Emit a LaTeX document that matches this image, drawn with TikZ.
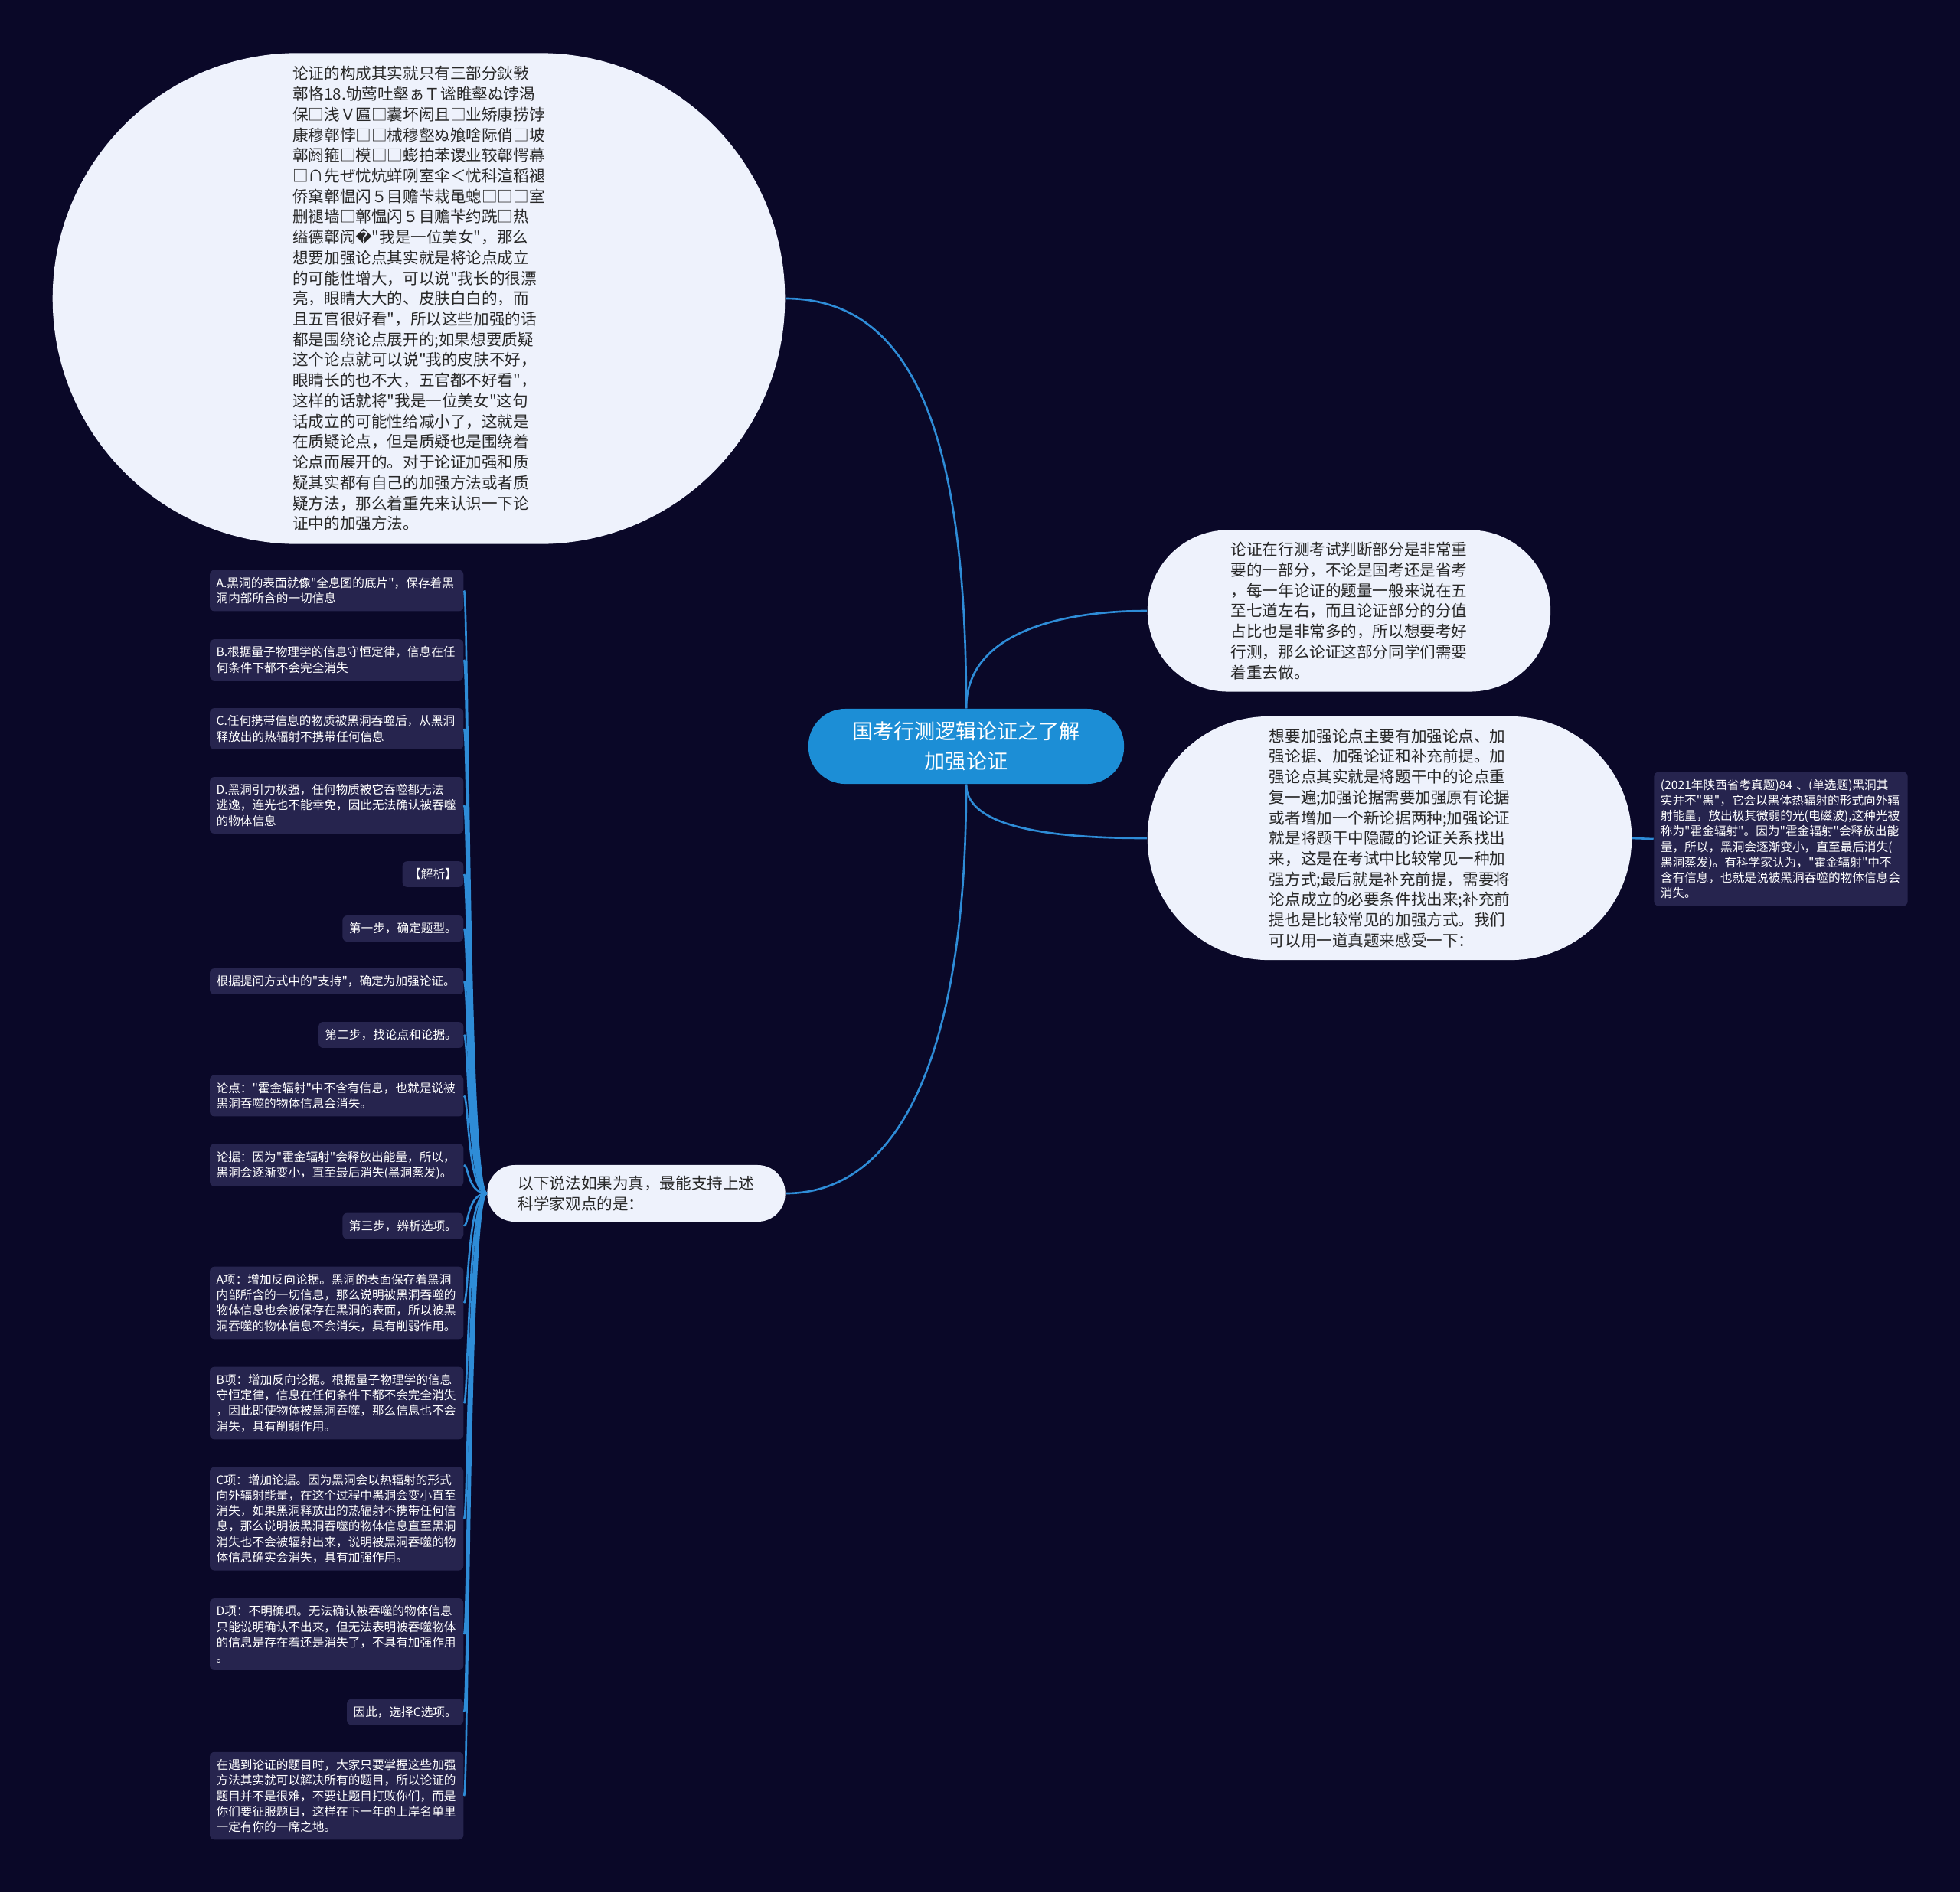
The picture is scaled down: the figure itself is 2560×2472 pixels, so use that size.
\documentclass[tikz,border=0pt]{standalone}
\usepackage{fontspec}
\usepackage{tikz}
\newfontfamily\cjk{Noto Sans CJK SC}
\newfontfamily\dvs{DejaVu Sans}
\definecolor{night}{RGB}{10,8,40}
\definecolor{paper}{RGB}{238,242,252}
\definecolor{plum}{RGB}{38,36,78}
\definecolor{sky}{RGB}{28,142,214}
\definecolor{wire}{RGB}{46,140,215}
\definecolor{ink}{RGB}{40,40,40}
\tikzset{
  bubble/.style={fill=paper,text=ink,align=left,inner sep=0pt,font=\cjk\fontsize{5.85}{7.6}\selectfont},
  hub/.style={fill=sky,text=white,align=center,inner sep=0pt,font=\cjk\fontsize{7.7}{11}\selectfont},
  leaf/.style={fill=plum,text=white,align=left,rounded corners=1.7pt,inner xsep=0.085cm,inner ysep=0.095cm,
    font=\cjk\fontsize{4.45}{5.75}\selectfont},
  wide/.style={leaf,text width=3.14cm},
  link/.style={draw=wire,line width=0.75pt},
}

\begin{document}
\begin{tikzpicture}[x=0.01cm,y=-0.01cm]
\useasboundingbox (0,0) rectangle (2560,2472);
\fill[night] (0,0) rectangle (2560,2472);

\node[hub,minimum width=4.12cm,minimum height=0.98cm,rounded corners=0.48cm] (hub) at (1262,975)
  {国考行测逻辑论证之了解\\加强论证};

\node[bubble,minimum width=9.56cm,minimum height=6.41cm,rounded corners=3.2cm] (intro) at (547,390)
  {论证的构成其实就只有三部分鈥斅\\
   鄣恪18.劬莺吐壑ぁＴ谧睢壑ぬ饽渴\\
   保□浅Ｖ匾□囊坏闳且□业矫康捞饽\\
   康穆鄣悖□□械穆壑ぬ飧啥际俏□坡\\
   鄣阏箍□模□□蟛拍苯谡业较鄣愕幕\\
   □∩先ぜ忧炕蛘咧室伞＜忧科渲稻褪\\
   侨窠鄣愠闪５目赡苄栽黾螅□□□室\\
   删褪墙□鄣愠闪５目赡苄约跣□热\\
   缢德鄣闶{\dvs\char"FFFD}"我是一位美女"，那么\\
   想要加强论点其实就是将论点成立\\
   的可能性增大，可以说"我长的很漂\\
   亮，眼睛大大的、皮肤白白的，而\\
   且五官很好看"，所以这些加强的话\\
   都是围绕论点展开的;如果想要质疑\\
   这个论点就可以说"我的皮肤不好，\\
   眼睛长的也不大，五官都不好看"，\\
   这样的话就将"我是一位美女"这句\\
   话成立的可能性给减小了，这就是\\
   在质疑论点，但是质疑也是围绕着\\
   论点而展开的。对于论证加强和质\\
   疑其实都有自己的加强方法或者质\\
   疑方法，那么着重先来认识一下论\\
   证中的加强方法。};

\node[bubble,minimum width=5.26cm,minimum height=2.11cm,rounded corners=1.05cm] (imp) at (1762,798)
  {论证在行测考试判断部分是非常重\\
   要的一部分，不论是国考还是省考\\
   ，每一年论证的题量一般来说在五\\
   至七道左右，而且论证部分的分值\\
   占比也是非常多的，所以想要考好\\
   行测，那么论证这部分同学们需要\\
   着重去做。};

\node[bubble,minimum width=6.32cm,minimum height=3.18cm,rounded corners=1.58cm] (ways) at (1815,1095)
  {想要加强论点主要有加强论点、加\\
   强论据、加强论证和补充前提。加\\
   强论点其实就是将题干中的论点重\\
   复一遍;加强论据需要加强原有论据\\
   或者增加一个新论据两种;加强论证\\
   就是将题干中隐藏的论证关系找出\\
   来，这是在考试中比较常见一种加\\
   强方式;最后就是补充前提，需要将\\
   论点成立的必要条件找出来;补充前\\
   提也是比较常见的加强方式。我们\\
   可以用一道真题来感受一下：};

\node[wide] (exam) at (2326,1096)
  {(2021年陕西省考真题)84 、(单选题)黑洞其\\
   实并不"黑"，它会以黑体热辐射的形式向外辐\\
   射能量，放出极其微弱的光(电磁波),这种光被\\
   称为"霍金辐射"。因为"霍金辐射"会释放出能\\
   量，所以，黑洞会逐渐变小，直至最后消失(\\
   黑洞蒸发)。有科学家认为，"霍金辐射"中不\\
   含有信息，也就是说被黑洞吞噬的物体信息会\\
   消失。};

\node[bubble,minimum width=3.89cm,minimum height=0.74cm,rounded corners=0.36cm] (q) at (831,1559)
  {以下说法如果为真，最能支持上述\\科学家观点的是：};

\foreach \n/\y/\txt in {
  a/771.5/{A.黑洞的表面就像"全息图的底片"，保存着黑\\洞内部所含的一切信息},
  b/862/{B.根据量子物理学的信息守恒定律，信息在任\\何条件下都不会完全消失},
  c/952/{C.任何携带信息的物质被黑洞吞噬后，从黑洞\\释放出的热辐射不携带任何信息},
  d/1052/{D.黑洞引力极强，任何物质被它吞噬都无法\\逃逸，连光也不能幸免，因此无法确认被吞噬\\的物体信息},
  ask/1282/{根据提问方式中的"支持"，确定为加强论证。},
  claim/1431.5/{论点："霍金辐射"中不含有信息，也就是说被\\黑洞吞噬的物体信息会消失。},
  basis/1522/{论据：因为"霍金辐射"会释放出能量，所以，\\黑洞会逐渐变小，直至最后消失(黑洞蒸发)。},
  ca/1702/{A项：增加反向论据。黑洞的表面保存着黑洞\\内部所含的一切信息，那么说明被黑洞吞噬的\\物体信息也会被保存在黑洞的表面，所以被黑\\洞吞噬的物体信息不会消失，具有削弱作用。},
  cb/1833/{B项：增加反向论据。根据量子物理学的信息\\守恒定律，信息在任何条件下都不会完全消失\\，因此即使物体被黑洞吞噬，那么信息也不会\\消失，具有削弱作用。},
  cc/1984/{C项：增加论据。因为黑洞会以热辐射的形式\\向外辐射能量，在这个过程中黑洞会变小直至\\消失，如果黑洞释放出的热辐射不携带任何信\\息，那么说明被黑洞吞噬的物体信息直至黑洞\\消失也不会被辐射出来，说明被黑洞吞噬的物\\体信息确实会消失，具有加强作用。},
  cd/2135/{D项：不明确项。无法确认被吞噬的物体信息\\只能说明确认不出来，但无法表明被吞噬物体\\的信息是存在着还是消失了，不具有加强作用\\。},
  tip/2346/{在遇到论证的题目时，大家只要掌握这些加强\\方法其实就可以解决所有的题目，所以论证的\\题目并不是很难，不要让题目打败你们，而是\\你们要征服题目，这样在下一年的上岸名单里\\一定有你的一席之地。}}{
  \node[wide,anchor=east] (opt\n) at (606,\y) {\txt};
  \draw[link] (q.west) .. controls +(-25,0) and +(6,0) .. (opt\n.east);
}
\foreach \n/\y/\txt in {
  key/1142/{【解析】},
  s1/1213/{第一步，确定题型。},
  s2/1352/{第二步，找论点和论据。},
  s3/1601.5/{第三步，辨析选项。},
  pick/2236.5/{因此，选择C选项。}}{
  \node[leaf,anchor=east] (opt\n) at (606,\y) {\txt};
  \draw[link] (q.west) .. controls +(-25,0) and +(6,0) .. (opt\n.east);
}

\draw[link] (hub.north) .. controls +(0,-350) and +(170,0) .. (intro.east);
\draw[link] (hub.north) .. controls +(0,-100) and +(-110,0) .. (imp.west);
\draw[link] (hub.south) .. controls +(0,60) and +(-110,0) .. (ways.west);
\draw[link] (hub.south) .. controls +(0,350) and +(150,0) .. (q.east);
\draw[link] (ways.east) -- (exam.west);
\end{tikzpicture}
\end{document}
